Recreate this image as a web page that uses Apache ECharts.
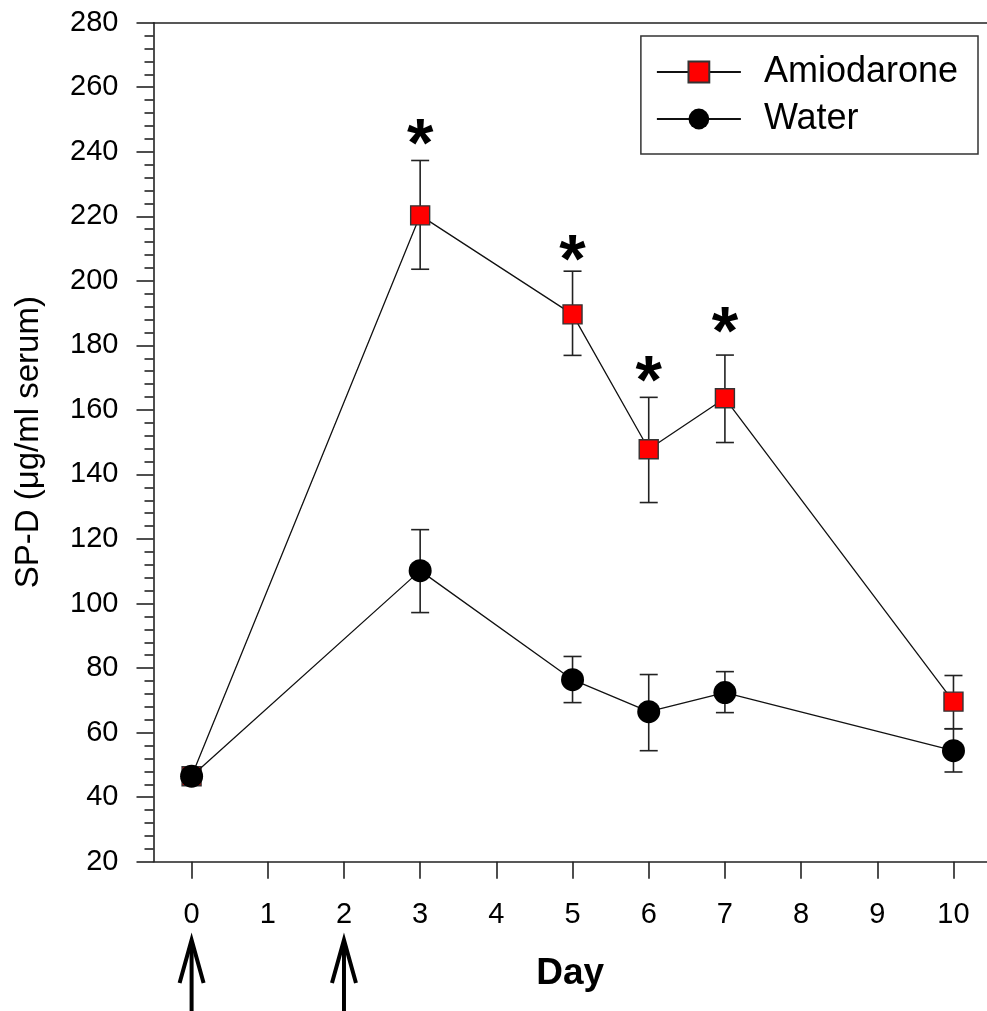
<!DOCTYPE html>
<html>
<head>
<meta charset="utf-8">
<script src="https://cdn.jsdelivr.net/npm/echarts@6/dist/echarts.min.js"></script>
<style>html,body{margin:0;padding:0;background:#fff;}#c{width:987px;height:1011px;}</style>
</head>
<body>
<div id="c"></div>
<script>
var days = [0, 3, 5, 6, 7, 10];
var amioMean = [46.5, 220.3, 189.6, 147.8, 163.6, 69.6];
var amioLo   = [44.5, 203.6, 176.9, 131.3, 149.9, 61.2];
var amioHi   = [48.5, 237.3, 203.0, 163.9, 177.0, 77.7];
var waterMean = [46.5, 110.2, 76.4, 66.5, 72.4, 54.4];
var waterLo   = [44.5, 97.2, 69.3, 54.4, 66.2, 47.8];
var waterHi   = [48.5, 122.9, 83.6, 78.0, 78.9, 61.2];
var sigDays = [3, 5, 6, 7];
var sigY = [245.3, 209.6, 172.1, 187.3];
var arrowDays = [0, 2];
var xTicks = [0, 1, 2, 3, 4, 5, 6, 7, 8, 9, 10];
var seriesNames = ['Amiodarone', 'Water'];

var FONT = 'Liberation Sans, Arial, sans-serif';
var chart = echarts.init(document.getElementById('c'), null, {renderer: 'canvas'});

function pairs(xs, ys) { return xs.map(function (x, i) { return [x, ys[i]]; }); }
function triples(xs, lo, hi) { return xs.map(function (x, i) { return [x, lo[i], hi[i]]; }); }

function errRender(params, api) {
  var x = api.value(0), lo = api.value(1), hi = api.value(2);
  var pLo = api.coord([x, lo]), pHi = api.coord([x, hi]);
  var w = 9;
  var st = {stroke: '#222', lineWidth: 1.6};
  return {
    type: 'group',
    children: [
      {type: 'line', shape: {x1: pLo[0], y1: pLo[1], x2: pHi[0], y2: pHi[1]}, style: st},
      {type: 'line', shape: {x1: pLo[0] - w, y1: pLo[1], x2: pLo[0] + w, y2: pLo[1]}, style: st},
      {type: 'line', shape: {x1: pHi[0] - w, y1: pHi[1], x2: pHi[0] + w, y2: pHi[1]}, style: st}
    ]
  };
}

var option = {
  animation: false,
  backgroundColor: '#fff',
  grid: {left: 153.5, right: 0, top: 22.7, bottom: 149.3, containLabel: false},
  legend: {
    data: seriesNames,
    right: 9, top: 36,
    orient: 'vertical',
    backgroundColor: '#fff',
    borderColor: '#333', borderWidth: 1.5, borderRadius: 0,
    padding: [18, 20, 17, 15],
    itemWidth: 84, itemHeight: 26, itemGap: 11,
    textStyle: {fontFamily: FONT, fontSize: 36, color: '#000', padding: [0, 0, 0, 18]}
  },
  xAxis: [{
    type: 'value', min: -0.5, max: 10.44, position: 'bottom',
    axisLine: {show: true, onZero: false, lineStyle: {color: '#222', width: 1.6}},
    axisTick: {show: true, length: 17, lineStyle: {color: '#222', width: 1.6},
      customValues: xTicks},
    axisLabel: {fontFamily: FONT, fontSize: 29, color: '#000', margin: 39, customValues: xTicks,
      formatter: function (v) { return String(v); }},
    splitLine: {show: false},
    name: 'Day', nameLocation: 'middle', nameGap: 94,
    nameTextStyle: {fontFamily: FONT, fontSize: 37, fontWeight: 'bold', color: '#000'}
  }, {
    type: 'value', min: -0.5, max: 10.44, position: 'top',
    axisLine: {show: true, onZero: false, lineStyle: {color: '#222', width: 1.6}},
    axisTick: {show: false}, axisLabel: {show: false}, splitLine: {show: false}
  }],
  yAxis: {
    type: 'value', min: 20, max: 280, interval: 20,
    axisLine: {show: true, onZero: false, lineStyle: {color: '#222', width: 1.6}},
    axisTick: {show: true, length: 17, lineStyle: {color: '#222', width: 1.6}},
    minorTick: {show: true, splitNumber: 5, length: 9, lineStyle: {color: '#222', width: 1.6}},
    axisLabel: {fontFamily: FONT, fontSize: 29, color: '#000', margin: 35},
    splitLine: {show: false},
    name: 'SP-D (μg/ml serum)', nameLocation: 'middle', nameGap: 108, nameRotate: 90,
    nameTextStyle: {fontFamily: FONT, fontSize: 33, color: '#000'}
  },
  series: [
    {type: 'custom', name: 'errA', renderItem: errRender, data: triples(days, amioLo, amioHi), z: 1, silent: true},
    {type: 'custom', name: 'errW', renderItem: errRender, data: triples(days, waterLo, waterHi), z: 1, silent: true},
    {
      type: 'line', name: seriesNames[0], data: pairs(days, amioMean), z: 3,
      symbol: 'rect', symbolSize: 19, showAllSymbol: true,
      lineStyle: {color: '#111', width: 1.3},
      itemStyle: {color: '#ff0000', borderColor: '#333', borderWidth: 1.4}
    },
    {
      type: 'line', name: seriesNames[1], data: pairs(days, waterMean), z: 4,
      symbol: 'circle', symbolSize: 23, showAllSymbol: true,
      lineStyle: {color: '#111', width: 1.3},
      itemStyle: {color: '#000', borderColor: '#000', borderWidth: 0}
    },
    {
      type: 'custom', name: 'sig', silent: true, z: 5, data: pairs(sigDays, sigY),
      renderItem: function (params, api) {
        var p = api.coord([api.value(0), api.value(1)]);
        return {type: 'text', x: p[0], y: p[1] + 13,
          style: {text: '*', fontFamily: FONT, fontSize: 68, fontWeight: 'bold', fill: '#000',
            textAlign: 'center', textVerticalAlign: 'middle'}};
      }
    }
  ]
};
chart.setOption(option);

var g = [];
arrowDays.forEach(function (d) {
  var x = chart.convertToPixel({xAxisIndex: 0}, d);
  var tip = 940;
  g.push({type: 'polyline', shape: {points: [[x, tip + 2], [x, 1011]]}, style: {stroke: '#000', lineWidth: 4, fill: null}});
  g.push({type: 'polyline', shape: {points: [[x - 12, tip + 43], [x, tip], [x + 12, tip + 43]]},
    style: {stroke: '#000', lineWidth: 4, fill: null, lineJoin: 'miter'}});
});
chart.setOption({graphic: g});
</script>
</body>
</html>
